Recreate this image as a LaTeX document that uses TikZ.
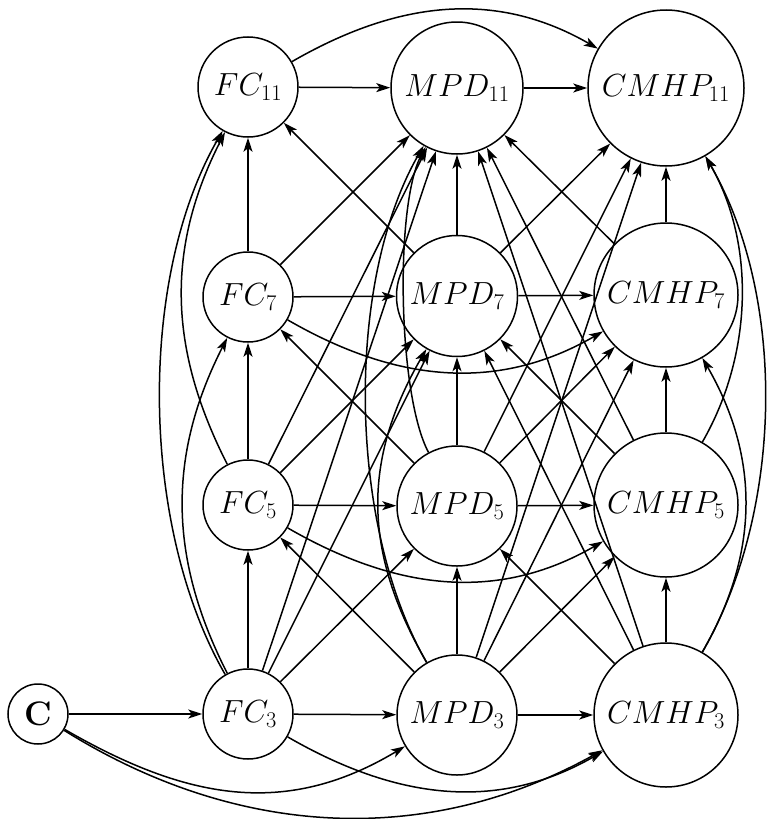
\RequirePackage{fix-cm}
\documentclass[tikz,border=0pt]{standalone}
\usetikzlibrary{arrows.meta}
\begin{document}
\begin{tikzpicture}[x=1pt,y=1pt,
  nd/.style={draw, circle, line width=1.5pt, inner sep=0pt, font=\fontsize{32}{38}\selectfont},
  arr/.style={line width=1.5pt, -{Stealth[length=14pt,width=9pt,inset=3.5pt]}},
]
\useasboundingbox (0,0) rectangle (772,-819);
% nodes
\node[nd, minimum size=60pt, font=\fontsize{34}{40}\selectfont] (C) at (38,-714) {\textbf{C}};
\node[nd, minimum size=100pt] (F11) at (248,-87) {$FC_{11}$};
\node[nd, minimum size=132pt] (M11) at (457,-88) {$MPD_{11}$};
\node[nd, minimum size=156pt] (H11) at (666,-88) {$CMHP_{11}$};
\node[nd, minimum size=90pt] (F7) at (248,-297) {$FC_{7}$};
\node[nd, minimum size=121pt] (M7) at (457,-296) {$MPD_{7}$};
\node[nd, minimum size=144pt] (H7) at (666,-295) {$CMHP_{7}$};
\node[nd, minimum size=90pt] (F5) at (248,-505) {$FC_{5}$};
\node[nd, minimum size=120pt] (M5) at (457,-506) {$MPD_{5}$};
\node[nd, minimum size=144pt] (H5) at (666,-505) {$CMHP_{5}$};
\node[nd, minimum size=90pt] (F3) at (248,-714) {$FC_{3}$};
\node[nd, minimum size=120pt] (M3) at (457,-715) {$MPD_{3}$};
\node[nd, minimum size=144pt] (H3) at (666,-715) {$CMHP_{3}$};
% within-time straight
\draw[arr] (C) -- (F3);
\foreach \t in {11,7,5,3} {
  \draw[arr] (F\t) -- (M\t);
  \draw[arr] (M\t) -- (H\t);
}
% lag-1 vertical
\foreach \v in {F,M,H} {
  \draw[arr] (\v3) -- (\v5);
  \draw[arr] (\v5) -- (\v7);
  \draw[arr] (\v7) -- (\v11);
}
% FC -> later MPD
\draw[arr] (F3) -- (M5);
\draw[arr] (F3) -- (M7);
\draw[arr] (F3) -- (M11);
\draw[arr] (F5) -- (M7);
\draw[arr] (F5) -- (M11);
\draw[arr] (F7) -- (M11);
% MPD -> next FC
\draw[arr] (M3) -- (F5);
\draw[arr] (M5) -- (F7);
\draw[arr] (M7) -- (F11);
% MPD -> later CMHP
\draw[arr] (M3) -- (H5);
\draw[arr] (M3) -- (H7);
\draw[arr] (M3) -- (H11);
\draw[arr] (M5) -- (H7);
\draw[arr] (M5) -- (H11);
\draw[arr] (M7) -- (H11);
% CMHP -> later MPD
\draw[arr] (H3) -- (M5);
\draw[arr] (H3) -- (M7);
\draw[arr] (H3) -- (M11);
\draw[arr] (H5) -- (M7);
\draw[arr] (H5) -- (M11);
\draw[arr] (H7) -- (M11);
% autoregressive arcs
\draw[arr] (F5) to[out=117,in=243,looseness=1] (F11);
\draw[arr] (F3) to[out=117,in=243,looseness=1] (F7);
\draw[arr] (F3) to[out=120,in=240,looseness=0.8] (F11);
\draw[arr] (M5) to[out=118,in=242,looseness=0.55] (M11);
\draw[arr] (M3) to[out=120,in=240,looseness=1.05] (M7);
\draw[arr] (M3) to[out=120,in=240,looseness=0.78] (M11);
\draw[arr] (H5) to[out=60,in=300,looseness=0.9] (H11);
\draw[arr] (H3) to[out=60,in=300,looseness=1] (H7);
\draw[arr] (H3) to[out=60,in=300,looseness=0.84] (H11);
% FC -> CMHP same time
\draw[arr] (F11) to[out=30,in=150] (H11);
\draw[arr] (F7) to[out=-30,in=210] (H7);
\draw[arr] (F5) to[out=-30,in=210] (H5);
\draw[arr] (F3) to[out=-30,in=210] (H3);
% C arcs
\draw[arr] (C) to[out=-30,in=211,looseness=1.05] (M3);
\draw[arr] (C) to[out=-32,in=209,looseness=0.96] (H3);
\end{tikzpicture}
\end{document}
